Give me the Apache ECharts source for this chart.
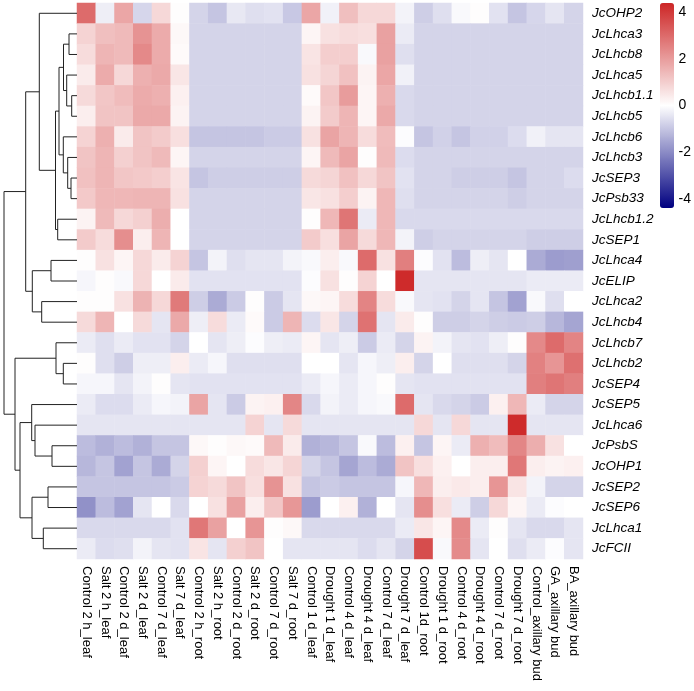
<!DOCTYPE html>
<html>
<head>
<meta charset="utf-8">
<script src="https://cdn.jsdelivr.net/npm/echarts@6/dist/echarts.min.js"></script>
<style>html,body{margin:0;padding:0;background:#fff}#c{width:694px;height:691px}</style>
</head>
<body>
<div id="c"></div>
<script>
const genes = ["JcOHP2","JcLhca3","JcLhcb8","JcLhca5","JcLhcb1.1","JcLhcb5","JcLhcb6","JcLhcb3","JcSEP3","JcPsb33","JcLhcb1.2","JcSEP1","JcLhca4","JcELIP","JcLhca2","JcLhcb4","JcLhcb7","JcLhcb2","JcSEP4","JcSEP5","JcLhca6","JcPsbS","JcOHP1","JcSEP2","JcSEP6","JcLhca1","JcFCII"];

const samples = ["Control 2 h_leaf","Salt 2 h_leaf","Control 2 d_leaf","Salt 2 d_leaf","Control 7 d_leaf","Salt 7 d_leaf","Control 2 h_root","Salt 2 h_root","Control 2 d_root","Salt 2 d_root","Control 7 d_root","Salt 7 d_root","Control 1 d_leaf","Drought 1 d_leaf","Control 4 d_leaf","Drought 4 d_leaf","Control 7 d_leaf","Drought 7 d_leaf","Control 1d_root","Drought 1 d_root","Control 4 d_root","Drought 4 d_root","Control 7 d_root","Drought 7 d_root","Control_axillary bud","GA_axillary bud","BA_axillary bud"];

// scaled expression, one row per gene (same order as genes)
const expression = [
 [3.0,-0.3,1.8,-0.7,0.8,0.05,-0.75,-1.0,-0.4,-0.55,-0.5,-0.95,1.8,-0.25,1.3,0.8,0.8,-0.2,-0.85,-0.55,-0.1,0.05,-0.5,-1.0,-0.7,-0.45,-0.75],
 [0.9,1.3,1.4,2.2,1.7,0.15,-0.75,-0.75,-0.75,-0.75,-0.75,-0.75,0.2,0.6,0.7,0.65,1.9,-0.35,-0.75,-0.75,-0.75,-0.75,-0.75,-0.75,-0.75,-0.75,-0.75],
 [0.7,1.5,1.4,2.4,1.7,0.1,-0.75,-0.75,-0.75,-0.75,-0.75,-0.75,0.55,1.0,1.0,-0.1,1.9,-0.55,-0.75,-0.75,-0.75,-0.75,-0.75,-0.75,-0.75,-0.75,-0.75],
 [0.4,1.7,0.8,1.6,1.75,0.5,-0.75,-0.75,-0.75,-0.75,-0.75,-0.75,0.6,0.85,1.25,0.25,1.8,-0.25,-0.75,-0.75,-0.75,-0.75,-0.75,-0.75,-0.75,-0.75,-0.75],
 [0.75,1.15,1.35,1.7,1.6,0.3,-0.75,-0.75,-0.75,-0.75,-0.75,-0.75,0.1,1.15,2.0,0.2,1.6,-0.65,-0.75,-0.75,-0.75,-0.75,-0.75,-0.75,-0.75,-0.75,-0.75],
 [0.35,1.2,1.2,1.75,1.75,0.25,-0.75,-0.75,-0.75,-0.75,-0.75,-0.75,0.25,1.05,1.5,0.2,1.75,-0.65,-0.75,-0.75,-0.75,-0.75,-0.75,-0.75,-0.75,-0.75,-0.75],
 [0.9,1.6,0.4,1.2,1.05,0.65,-1.0,-1.0,-1.0,-1.0,-0.9,-0.9,0.6,1.85,1.5,0.7,1.35,-0.05,-1.0,-0.8,-1.0,-0.8,-0.8,-0.6,-0.25,-0.45,-0.45],
 [1.2,1.5,0.95,1.2,1.4,0.2,-0.75,-0.75,-0.75,-0.75,-0.75,-0.75,0.2,1.4,1.85,0.05,1.4,-0.6,-0.75,-0.75,-0.75,-0.75,-0.75,-0.75,-0.75,-0.75,-0.75],
 [1.25,1.5,1.15,1.1,1.0,0.55,-1.0,-0.85,-0.85,-0.85,-0.85,-0.85,0.75,0.85,1.25,0.8,1.2,-0.5,-0.75,-0.75,-0.85,-0.85,-0.85,-1.0,-0.75,-0.75,-0.6],
 [1.1,1.45,1.45,1.5,1.5,0.6,-0.75,-0.75,-0.75,-0.75,-0.75,-0.75,0.5,0.6,1.0,0.25,1.45,-0.55,-0.75,-0.75,-0.75,-0.75,-0.75,-0.85,-0.75,-0.75,-0.75],
 [0.25,1.4,0.8,0.95,1.65,0.0,-0.75,-0.75,-0.75,-0.75,-0.75,-0.75,0.05,1.45,2.8,-0.35,1.45,-0.65,-0.65,-0.65,-0.65,-0.65,-0.65,-0.65,-0.65,-0.65,-0.65],
 [1.05,0.7,2.3,0.35,1.5,0.0,-0.75,-0.75,-0.75,-0.75,-0.75,-0.75,1.05,0.65,1.85,0.75,1.45,-0.2,-0.85,-0.75,-0.75,-0.75,-0.75,-0.75,-0.85,-0.85,-0.85],
 [0.05,0.6,0.2,0.8,0.4,0.9,-1.0,-0.2,-0.55,-0.45,-0.45,-0.2,-0.1,0.35,-0.1,3.0,0.6,2.6,-0.05,-0.5,-1.15,-0.3,-0.45,0.0,-1.45,-1.7,-1.65],
 [-0.15,0.05,-0.1,0.8,0.0,0.4,-0.5,-0.5,-0.5,-0.5,-0.5,-0.5,-0.05,0.6,0.05,0.9,0.0,4.3,-0.45,-0.45,-0.45,-0.45,-0.45,-0.45,-0.35,-0.35,-0.35],
 [0.05,0.05,0.6,1.55,0.8,2.7,-0.85,-1.45,-0.9,0.05,-0.9,-0.45,0.15,0.2,0.7,2.5,0.7,-0.1,-0.45,-0.5,-0.75,-0.45,-1.0,-1.6,-0.1,-0.55,0.0],
 [0.75,1.5,0.0,0.75,-0.45,1.75,-0.3,0.7,-0.35,0.1,-0.9,1.5,-0.6,0.5,-0.75,2.85,-0.45,0.4,0.05,-0.85,-0.85,-0.75,-0.85,-0.9,-0.85,-1.25,-1.55],
 [-0.35,-0.55,-0.35,-0.5,-0.5,-0.75,0.0,-0.45,-0.3,-0.05,-0.3,-0.35,0.2,-0.45,-0.3,-0.9,-0.35,-0.75,0.25,-0.2,-0.45,-0.5,-0.3,0.05,2.4,3.0,2.5],
 [0.05,-0.55,-0.85,-0.3,-0.3,0.35,-0.35,-0.15,-0.55,-0.55,-0.55,-0.55,0.0,0.0,-0.45,-0.15,-0.3,0.35,-0.75,0.0,-0.55,-0.55,-0.55,-0.75,2.55,2.15,2.9],
 [-0.15,-0.15,-0.45,-0.2,0.05,-0.45,-0.5,-0.5,-0.5,-0.5,-0.5,-0.5,-0.35,-0.15,-0.35,-0.15,0.05,-0.45,-0.5,-0.5,-0.5,-0.5,-0.5,-0.5,2.6,2.8,2.6],
 [-0.35,-0.6,-0.6,-0.35,-0.15,-0.2,1.85,-0.45,-0.9,0.25,0.3,2.45,-0.65,-0.2,-0.35,-0.15,-0.1,3.0,-0.45,-0.65,-0.75,-0.9,0.3,1.45,-0.35,-0.75,-0.75],
 [-0.45,-0.45,-0.45,-0.45,-0.45,-0.45,-0.45,-0.45,-0.45,0.9,-0.45,0.75,-0.45,-0.45,-0.45,-0.45,-0.45,-0.45,0.8,-0.45,0.8,-0.45,-0.45,4.3,-0.45,-0.45,-0.45],
 [-1.15,-1.35,-1.15,-1.35,-1.0,-1.0,0.15,0.05,0.15,0.1,1.4,0.4,-1.35,-1.25,-1.0,-0.1,-1.15,0.3,-1.0,0.2,-0.35,1.6,1.35,2.45,1.65,0.6,0.0],
 [-1.25,-1.0,-1.6,-1.0,-1.45,-0.75,0.95,0.2,0.0,0.7,0.5,0.85,-0.75,-1.0,-1.55,-1.15,-1.45,1.2,0.65,0.3,0.0,0.35,0.35,2.75,0.35,0.25,0.3],
 [-1.0,-1.0,-1.0,-1.0,-1.0,-0.9,0.9,0.75,1.2,0.65,2.2,0.6,-1.0,-0.9,-1.0,-1.0,-1.0,-0.15,1.45,0.35,0.45,0.35,2.15,0.55,-0.2,-0.75,-0.75],
 [-1.9,-1.15,-1.6,-0.45,0.0,-0.65,0.0,0.6,1.9,0.35,1.15,2.1,-1.7,0.0,0.3,-1.35,0.0,-0.45,2.3,0.65,-0.35,-0.85,0.8,0.2,-0.35,-0.05,0.0],
 [-0.65,-0.65,-0.65,-0.65,-0.65,-0.5,2.75,1.9,0.0,2.15,0.05,0.15,-0.65,-0.65,-0.65,-0.65,-0.65,-0.35,0.5,0.2,2.4,-0.35,0.05,-0.45,-0.65,-0.65,-0.45],
 [-0.35,-0.6,-0.55,-0.2,-0.45,-0.5,0.55,-0.45,0.95,1.2,0.0,-0.45,-0.45,-0.45,-0.45,-0.6,-0.45,-0.75,3.6,-0.1,2.35,-0.45,0.0,-0.55,-0.35,-0.05,-0.45]
];

// row clustering: [left, right, height]; leaves by gene name, earlier merges by "n<i>"
const merges = [
 ["JcLhcb1.1","JcLhcb5",5.3],
 ["JcLhca5","n0",10.3],
 ["JcLhca3","JcLhcb8",8],
 ["n2","n1",13.5],
 ["JcSEP3","JcPsb33",6],
 ["JcLhcb3","n4",9.3],
 ["JcLhcb6","n5",13.7],
 ["n3","n6",18],
 ["JcLhcb1.2","JcSEP1",19.3],
 ["n7","n8",21.5],
 ["JcOHP2","n9",37.7],
 ["JcLhca4","JcELIP",26],
 ["JcLhca2","JcLhcb4",35.3],
 ["n11","n12",44.7],
 ["n10","n13",51.3],
 ["JcLhcb2","JcSEP4",13.7],
 ["JcLhcb7","n15",21],
 ["JcPsbS","JcOHP1",25],
 ["JcLhca6","n17",42],
 ["JcSEP5","n18",45.3],
 ["JcSEP2","JcSEP6",29],
 ["JcLhca1","JcFCII",33.7],
 ["n20","n21",45],
 ["n19","n22",57],
 ["n16","n23",62],
 ["n14","n24",73]
];

const colorTicks = [-4,-2,0,2,4];
const colorRange = [-4.4, 4.4];

// build heatmap data
const heatData = [];
expression.forEach((row, r) => row.forEach((v, c) => heatData.push([c, r, v])));

// build dendrogram polylines from merges
const nodePos = {};
genes.forEach((g, i) => { nodePos[g] = [0, i + 0.5]; });
const dendro = [];
merges.forEach((m, i) => {
  const a = nodePos[m[0]], b = nodePos[m[1]], h = m[2];
  dendro.push([a[0], a[1], h, b[0], b[1]]);
  nodePos["n" + i] = [h, (a[1] + b[1]) / 2];
});

const HL = 77, HT = 3, HW = 506, HH = 556;
const chart = echarts.init(document.getElementById('c'), null, {renderer: 'canvas'});
chart.setOption({
  animation: false,
  backgroundColor: '#ffffff',
  grid: [
    {left: HL, top: HT, width: HW, height: HH},
    {left: 0, top: HT, width: HL, height: HH},
    {left: 660, top: 3, width: 14, height: 205}
  ],
  xAxis: [
    {type: 'category', gridIndex: 0, data: samples, position: 'bottom',
     axisLine: {show: false}, axisTick: {show: false}, splitLine: {show: false},
     axisLabel: {rotate: -90, interval: 0, margin: 7, fontSize: 13, color: '#000', fontFamily: 'Liberation Sans'}},
    {type: 'value', gridIndex: 1, min: 0, max: 77, inverse: true, show: false},
    {type: 'value', gridIndex: 2, min: 0, max: 1, show: false}
  ],
  yAxis: [
    {type: 'category', gridIndex: 0, data: genes, inverse: true, position: 'right',
     axisLine: {show: false}, axisTick: {show: false}, splitLine: {show: false},
     axisLabel: {interval: 0, margin: 9, fontSize: 13.5, fontStyle: 'italic', color: '#000', fontFamily: 'Liberation Sans'}},
    {type: 'value', gridIndex: 1, min: 0, max: genes.length, inverse: true, show: false},
    {type: 'value', gridIndex: 2, min: colorRange[0], max: colorRange[1], position: 'right',
     axisLine: {show: false}, axisTick: {show: false}, splitLine: {show: false},
     axisLabel: {customValues: colorTicks, margin: 6, fontSize: 14, color: '#000', fontFamily: 'Liberation Sans'}}
  ],
  visualMap: {
    type: 'continuous', seriesIndex: 0, dimension: 2,
    min: colorRange[0], max: colorRange[1], calculable: false,
    orient: 'vertical', left: 660, top: 3, itemWidth: 14, itemHeight: 205, padding: 0,
    inRange: {color: ['#000080', '#ffffff', '#CD2626']}
  },
  series: [
    {type: 'heatmap', xAxisIndex: 0, yAxisIndex: 0, data: heatData,
     itemStyle: {borderWidth: 0}, emphasis: {disabled: true}, progressive: 0},
    {type: 'custom', xAxisIndex: 1, yAxisIndex: 1, data: dendro, silent: true,
     renderItem: function (params, api) {
       const p1 = api.coord([api.value(0), api.value(1)]);
       const p2 = api.coord([api.value(2), api.value(1)]);
       const p3 = api.coord([api.value(2), api.value(4)]);
       const p4 = api.coord([api.value(3), api.value(4)]);
       return {type: 'polyline', shape: {points: [p1, p2, p3, p4]},
               style: {stroke: '#222', lineWidth: 1, fill: null}};
     }}
  ]
});
</script>
</body>
</html>
